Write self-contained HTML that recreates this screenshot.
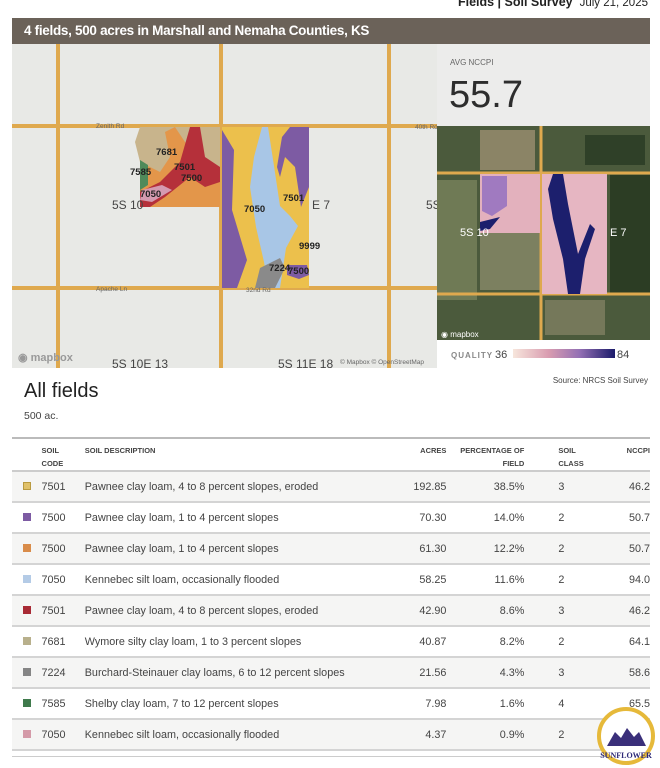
<!DOCTYPE html>
<html><head><meta charset="utf-8"><style>
*{margin:0;padding:0;box-sizing:border-box}
body{width:660px;height:768px;background:#fff;font-family:"Liberation Sans",sans-serif;color:#333;position:relative;overflow:hidden}
.abs{position:absolute}
.hdr{left:12px;top:18px;width:638px;height:26px;background:#6b6259;color:#fff;font-size:13.5px;font-weight:bold;padding:5px 0 0 12px;letter-spacing:-0.3px}
.top{right:12px;top:-5px;font-size:12.5px;color:#222}
table{position:absolute;left:12px;top:437px;width:638px;border-collapse:collapse;font-size:10.8px;color:#444}
th{font-size:7.5px;font-weight:bold;color:#444;text-align:left;vertical-align:top;padding:5px 0 0;line-height:13px;height:31px;border-top:2px solid #bbb;border-bottom:2px solid #ccc}
td{height:31px;border-bottom:2px solid #d4d4d4;padding:0}
tr:nth-child(even) td{background:#f5f5f4}
.sw{display:inline-block;width:8px;height:8px;margin-left:11px}
.r{text-align:right}
</style></head><body>
<div class="abs top"><b>Fields | Soil Survey</b>&nbsp; <span style="font-size:11.5px">July 21, 2025</span></div>
<div class="abs hdr">4 fields, 500 acres in Marshall and Nemaha Counties, KS</div>

<svg class="abs" style="left:12px;top:44px" width="638" height="324" viewBox="12 44 638 324">
<rect x="12" y="44" width="425" height="324" fill="#e8e9e6"/>
<g stroke="#dfa94e" stroke-width="4">
<line x1="58" y1="44" x2="58" y2="368"/><line x1="221" y1="44" x2="221" y2="368"/><line x1="389" y1="44" x2="389" y2="368"/>
<line x1="12" y1="126" x2="437" y2="126"/><line x1="12" y1="288" x2="437" y2="288"/>
</g>
<rect x="140" y="127" width="80" height="80" fill="#e3964a"/>
<path d="M140 127h80v40l-20 -5 -15-20 -10 -15 -10 5 5 25 -10 15 -20 -10 -5 -20z" fill="#c8b48c"/>
<path d="M190 127l10 0 5 30 15 10v15l-15 5 -15-10 -25 20 -15 10h-10v-15l20-10 20-20z" fill="#b5303a"/>
<path d="M140 160l8 5 0 20 -8 5z" fill="#4f8a5a"/>
<path d="M142 190l20 -5 10 5 -20 12 -12 -2z" fill="#d49ab0"/>
<rect x="222" y="127" width="87" height="161" fill="#ecc04c"/>
<path d="M222 130l12 20 -2 60 15 50 -10 28h-15z" fill="#7d5ba3"/>
<path d="M290 127h19v60l-8 20 -6 -40 -10 -10 -5 20 -3 -10 5 -30z" fill="#7d5ba3"/>
<path d="M262 127l-8 30 -4 30 6 40 8 35 4 26h12l6 -40 12 -22 -8 -10 -10 -10 -6 -40 -6 -39z" fill="#a8c6e6"/>
<path d="M255 288l5-20 20 -10 5 10 -10 20z" fill="#8a8a8a"/>
<path d="M287 265l20 0 2 10 -10 4 -12 -4z" fill="#7d5ba3"/>
<g font-size="9.5" fill="#222" font-weight="bold">
<text x="156" y="155">7681</text><text x="130" y="175">7585</text><text x="174" y="170">7501</text><text x="181" y="181">7500</text><text x="140" y="197">7050</text>
<text x="244" y="212">7050</text><text x="283" y="201">7501</text><text x="299" y="249">9999</text><text x="269" y="271">7224</text><text x="288" y="274">7500</text>
</g>
<g font-size="12" fill="#444"><text x="112" y="209">5S 10</text><text x="312" y="209">E 7</text><text x="426" y="209">5S</text><text x="112" y="368">5S 10E 13</text><text x="278" y="368">5S 11E 18</text></g>
<g font-size="6.5" fill="#666"><text x="96" y="128">Zenith Rd</text><text x="415" y="129">40th Rd</text><text x="96" y="291">Apache Ln</text><text x="246" y="292">32nd Rd</text><text x="340" y="364">© Mapbox © OpenStreetMap</text></g>
<text x="18" y="361" font-size="11" fill="#999" font-weight="bold">◉ mapbox</text>
<rect x="437" y="44" width="213" height="82" fill="#ececeb"/>
<text x="450" y="65" font-size="8" fill="#666">AVG NCCPI</text>
<text x="449" y="107" font-size="38" fill="#2d2d2d">55.7</text>
<rect x="437" y="126" width="213" height="214" fill="#4b5a3c"/>
<rect x="480" y="130" width="55" height="40" fill="#8b8466"/><rect x="585" y="135" width="60" height="30" fill="#2f4028"/>
<rect x="437" y="180" width="40" height="120" fill="#6f7a55"/><rect x="610" y="175" width="40" height="120" fill="#2c3d24"/>
<rect x="480" y="230" width="60" height="60" fill="#7c8060"/><rect x="545" y="300" width="60" height="35" fill="#75785a"/>
<g stroke="#dfa94e" stroke-width="3"><line x1="541" y1="126" x2="541" y2="340"/><line x1="437" y1="173" x2="650" y2="173"/><line x1="437" y1="294" x2="650" y2="294"/></g>
<rect x="480" y="174" width="60" height="59" fill="#e3b1bd"/>
<path d="M482 176h25v30l-15 10 -10-5z" fill="#a07ac0"/>
<path d="M480 222l20-5 -10 12 -10 2z" fill="#1c1f6d"/>
<rect x="542" y="174" width="65" height="120" fill="#e6b6c2"/>
<path d="M553 174h10l5 30 10 50 12-30 5 5 -10 30 -5 35h-12l-5-35 -10-40 -5-30z" fill="#1c1f6d"/>
<text x="460" y="236" font-size="11" fill="#fff">5S 10</text><text x="610" y="236" font-size="11" fill="#fff">E 7</text>
<text x="441" y="337" font-size="8" fill="#fff">◉ mapbox</text>
<rect x="437" y="340" width="213" height="28" fill="#fff"/>
<defs><linearGradient id="g"><stop offset="0" stop-color="#f7e6dc"/><stop offset=".35" stop-color="#d99cb0"/><stop offset=".65" stop-color="#9470b4"/><stop offset="1" stop-color="#1a1a6a"/></linearGradient></defs>
<text x="451" y="358" font-size="8" fill="#888" font-weight="bold" letter-spacing="1">QUALITY</text>
<text x="495" y="358" font-size="11" fill="#444">36</text>
<rect x="513" y="349" width="102" height="9" fill="url(#g)"/>
<text x="617" y="358" font-size="11" fill="#444">84</text>
</svg>

<div class="abs" style="left:24px;top:380px;font-size:20px;color:#222">All fields</div>
<div class="abs" style="left:24px;top:410px;font-size:10.5px;color:#444">500 ac.</div>
<div class="abs" style="right:12px;top:376px;font-size:8px;color:#444">Source: NRCS Soil Survey</div>

<table>
<colgroup><col style="width:30px"><col style="width:44px"><col style="width:322px"><col style="width:51px"><col style="width:79px"><col style="width:44px"><col style="width:68px"></colgroup>
<tr><th></th><th>SOIL<br>CODE</th><th>SOIL DESCRIPTION</th><th class="r">ACRES</th><th class="r">PERCENTAGE OF<br>FIELD</th><th style="padding-left:34px">SOIL<br>CLASS</th><th class="r">NCCPI</th></tr>
<tr><td><span class="sw" style="background:#e0c16a;border:1px solid #b99a40"></span></td><td>7501</td><td>Pawnee clay loam, 4 to 8 percent slopes, eroded</td><td class="r">192.85</td><td class="r">38.5%</td><td style="padding-left:34px">3</td><td class="r">46.2</td></tr>
<tr><td><span class="sw" style="background:#7d5ba3"></span></td><td>7500</td><td>Pawnee clay loam, 1 to 4 percent slopes</td><td class="r">70.30</td><td class="r">14.0%</td><td style="padding-left:34px">2</td><td class="r">50.7</td></tr>
<tr><td><span class="sw" style="background:#d98c4a"></span></td><td>7500</td><td>Pawnee clay loam, 1 to 4 percent slopes</td><td class="r">61.30</td><td class="r">12.2%</td><td style="padding-left:34px">2</td><td class="r">50.7</td></tr>
<tr><td><span class="sw" style="background:#b4cbe6"></span></td><td>7050</td><td>Kennebec silt loam, occasionally flooded</td><td class="r">58.25</td><td class="r">11.6%</td><td style="padding-left:34px">2</td><td class="r">94.0</td></tr>
<tr><td><span class="sw" style="background:#a82a35"></span></td><td>7501</td><td>Pawnee clay loam, 4 to 8 percent slopes, eroded</td><td class="r">42.90</td><td class="r">8.6%</td><td style="padding-left:34px">3</td><td class="r">46.2</td></tr>
<tr><td><span class="sw" style="background:#b8b08c"></span></td><td>7681</td><td>Wymore silty clay loam, 1 to 3 percent slopes</td><td class="r">40.87</td><td class="r">8.2%</td><td style="padding-left:34px">2</td><td class="r">64.1</td></tr>
<tr><td><span class="sw" style="background:#858585"></span></td><td>7224</td><td>Burchard-Steinauer clay loams, 6 to 12 percent slopes</td><td class="r">21.56</td><td class="r">4.3%</td><td style="padding-left:34px">3</td><td class="r">58.6</td></tr>
<tr><td><span class="sw" style="background:#3f7a4c"></span></td><td>7585</td><td>Shelby clay loam, 7 to 12 percent slopes</td><td class="r">7.98</td><td class="r">1.6%</td><td style="padding-left:34px">4</td><td class="r">65.5</td></tr>
<tr><td><span class="sw" style="background:#d49aa8"></span></td><td>7050</td><td>Kennebec silt loam, occasionally flooded</td><td class="r">4.37</td><td class="r">0.9%</td><td style="padding-left:34px">2</td><td class="r">73.0</td></tr>
</table>
<div class="abs" style="left:12px;top:756px;width:638px;border-top:1px solid #ccc"></div>

<svg class="abs" style="left:595px;top:706px" width="62" height="62">
<circle cx="31" cy="30" r="27" fill="#fff" stroke="#e6b93a" stroke-width="4"/>
<path d="M12 40l8-14 6 6 6-10 7 9 5-5 7 14z" fill="#3a2f7a"/>
<text x="31" y="52" font-size="8" font-weight="bold" text-anchor="middle" fill="#2e2a78" font-family="Liberation Serif,serif">SUNFLOWER</text>
</svg>
</body></html>
